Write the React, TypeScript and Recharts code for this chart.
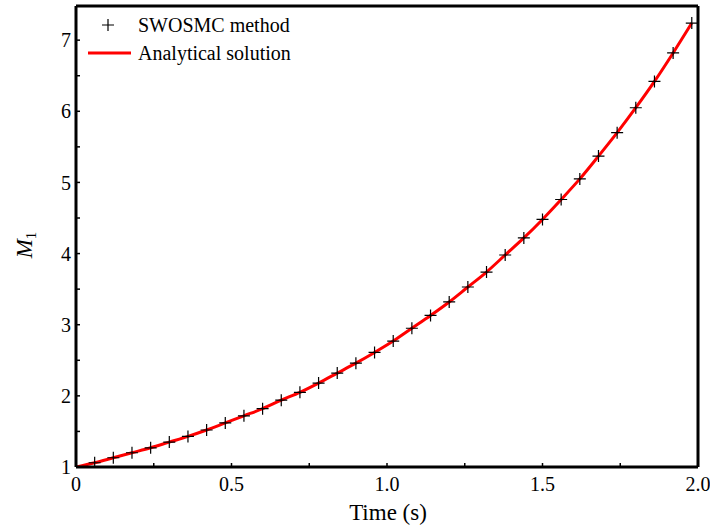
import React from 'react';
import { ComposedChart, Line, Scatter, XAxis, YAxis } from 'recharts';

// time samples (s) and M1 values
const times = [
  0, 0.06, 0.12, 0.18, 0.24, 0.3, 0.36, 0.42, 0.48, 0.54, 0.6, 0.66, 0.72, 0.78, 0.84, 0.9, 0.96,
  1.02, 1.08, 1.14, 1.2, 1.26, 1.32, 1.38, 1.44, 1.5, 1.56, 1.62, 1.68, 1.74, 1.8, 1.86, 1.92, 1.98,
];
const swosmc = [
  1.0, 1.06, 1.13, 1.2, 1.27, 1.35, 1.43, 1.52, 1.62, 1.72, 1.82, 1.94, 2.05, 2.18, 2.32, 2.46, 2.61,
  2.77, 2.95, 3.13, 3.32, 3.53, 3.74, 3.98, 4.22, 4.48, 4.76, 5.05, 5.37, 5.7, 6.05, 6.42, 6.82, 7.24,
];
const analytical = [
  1.0, 1.06, 1.13, 1.2, 1.27, 1.35, 1.43, 1.52, 1.62, 1.72, 1.82, 1.94, 2.05, 2.18, 2.32, 2.46, 2.61,
  2.77, 2.95, 3.13, 3.32, 3.53, 3.74, 3.98, 4.22, 4.48, 4.76, 5.05, 5.37, 5.7, 6.05, 6.42, 6.82, 7.24,
];

const xTicks = [0, 0.25, 0.5, 0.75, 1, 1.25, 1.5, 1.75, 2];
const xLabels: Record<string, string> = { '0': '0', '0.5': '0.5', '1': '1.0', '1.5': '1.5', '2': '2.0' };
const yTicks = [1, 1.5, 2, 2.5, 3, 3.5, 4, 4.5, 5, 5.5, 6, 6.5, 7];

const data = times.map((t, i) => ({ t, swosmc: swosmc[i], analytical: analytical[i] }));

const font = '"Liberation Serif", "Times New Roman", serif';
const tickStyle = { fontSize: 20, fill: '#000', fontFamily: font };
const axisLine = { stroke: '#000', strokeWidth: 3 };
const tickLine = { stroke: '#000', strokeWidth: 1.5 };

const Plus = (props: any) => {
  const { cx, cy } = props;
  if (cx == null || cy == null) return null;
  return (
    <path
      d={`M${cx - 6},${cy}H${cx + 6}M${cx},${cy - 6}V${cy + 6}`}
      stroke="#000"
      strokeWidth={1.2}
      fill="none"
    />
  );
};

export default function App() {
  return (
    <div style={{ position: 'absolute', left: 0, top: 0, width: 710, height: 526, background: '#fff' }}>
      <ComposedChart width={710} height={526} data={data} margin={{ top: 0, right: 0, bottom: 0, left: 0 }}>
        <XAxis
          xAxisId="b"
          dataKey="t"
          type="number"
          domain={[0, 2]}
          ticks={xTicks}
          allowDataOverflow
          height={59}
          axisLine={axisLine}
          tickLine={tickLine}
          tickSize={-4}
          tickMargin={14}
          tick={tickStyle}
          tickFormatter={(v: number) => xLabels[String(v)] ?? ''}
          interval={0}
          label={{
            content: () => (
              <text x={388} y={520} textAnchor="middle" fontSize={23} fontFamily={font} fill="#000">
                Time (s)
              </text>
            ),
          }}
        />
        <XAxis
          xAxisId="t"
          orientation="top"
          dataKey="t"
          type="number"
          domain={[0, 2]}
          ticks={xTicks}
          allowDataOverflow
          height={6}
          axisLine={axisLine}
          tickLine={tickLine}
          tickSize={-4}
          tick={false}
          interval={0}
        />
        <YAxis
          yAxisId="l"
          type="number"
          domain={[1, 7.48]}
          ticks={yTicks}
          allowDataOverflow
          width={76}
          axisLine={axisLine}
          tickLine={tickLine}
          tickSize={-4}
          tickMargin={9}
          tick={tickStyle}
          tickFormatter={(v: number) => (Number.isInteger(v) ? String(v) : '')}
          interval={0}
          label={{
            content: () => (
              <text
                x={32}
                y={245}
                transform="rotate(-90 32 245)"
                textAnchor="middle"
                fontSize={23}
                fontFamily={font}
                fill="#000"
              >
                <tspan fontStyle="italic">M</tspan>
                <tspan fontSize={15} dy={4}>1</tspan>
              </text>
            ),
          }}
        />
        <YAxis
          yAxisId="r"
          orientation="right"
          type="number"
          domain={[1, 7.48]}
          ticks={yTicks}
          allowDataOverflow
          width={12}
          axisLine={axisLine}
          tickLine={tickLine}
          tickSize={-4}
          tick={false}
          interval={0}
        />
        <Line
          xAxisId="b"
          yAxisId="l"
          dataKey="analytical"
          type="monotone"
          stroke="#ff0000"
          strokeWidth={3}
          dot={false}
          isAnimationActive={false}
        />
        <Scatter
          xAxisId="b"
          yAxisId="l"
          dataKey="swosmc"
          shape={<Plus />}
          isAnimationActive={false}
        />
      </ComposedChart>
      <svg
        width={230}
        height={70}
        style={{ position: 'absolute', left: 80, top: 8, fontFamily: font }}
      >
        <path d="M22,17H34M28,11V23" stroke="#000" strokeWidth={1.2} />
        <text x={58} y={24} fontSize={20} fill="#000">SWOSMC method</text>
        <line x1={8} y1={45} x2={51} y2={45} stroke="#ff0000" strokeWidth={3} />
        <text x={58} y={52} fontSize={20} fill="#000">Analytical solution</text>
      </svg>
    </div>
  );
}
